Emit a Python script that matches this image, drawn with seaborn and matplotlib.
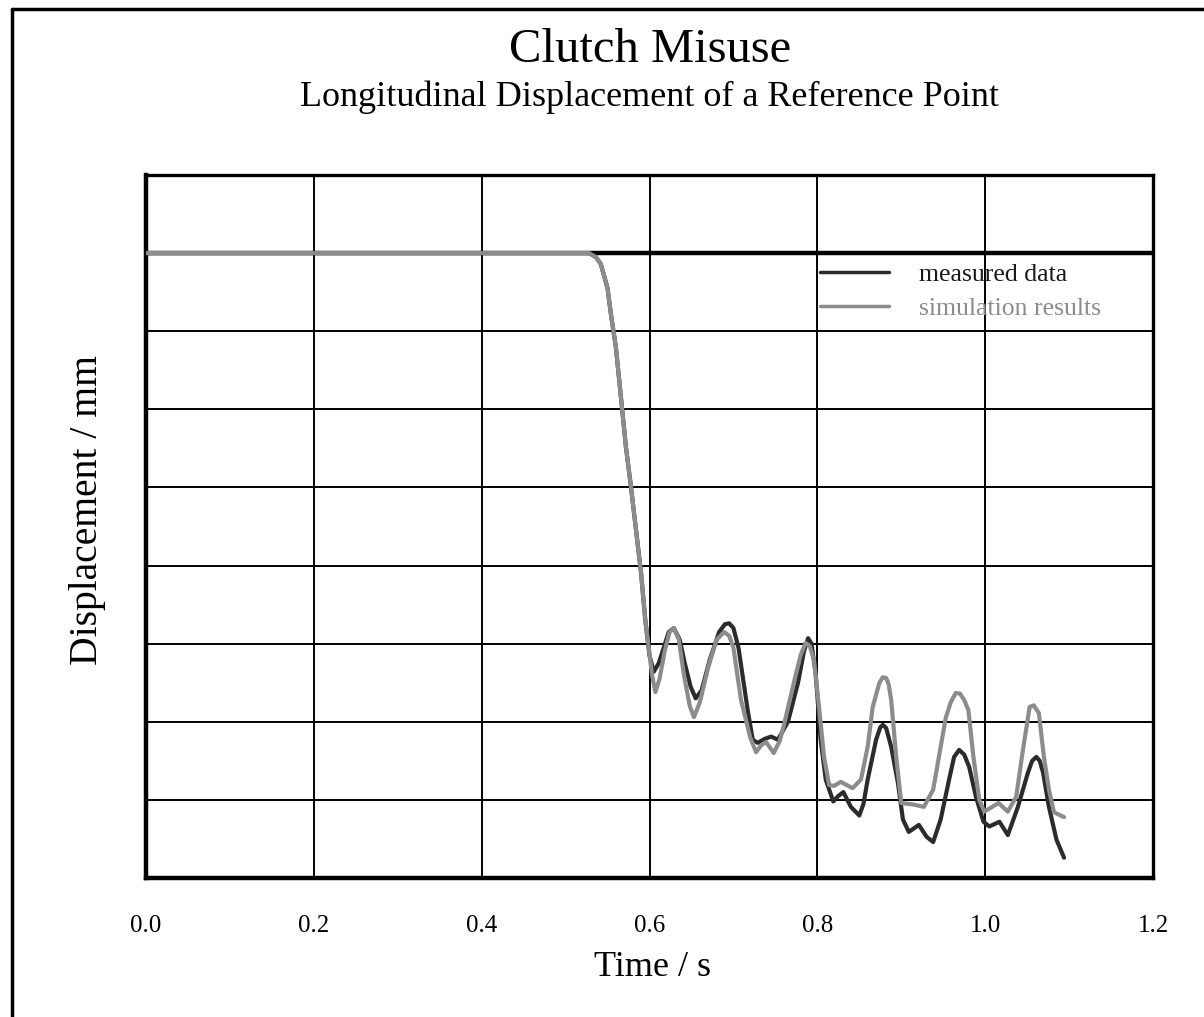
import numpy as np
import pandas as pd
import matplotlib
matplotlib.use("Agg")
import matplotlib.pyplot as plt
from matplotlib.lines import Line2D
import seaborn as sns

# ---------------- data ----------------
series_names = ["measured data", "simulation results"]

time_sim = [0.0, 0.20, 0.40, 0.50, 0.528, 0.536, 0.542, 0.550, 0.554, 0.560, 0.566, 0.572,
            0.578, 0.584, 0.590, 0.595, 0.599, 0.603, 0.607, 0.612, 0.618, 0.624, 0.629,
            0.635, 0.641, 0.648, 0.653, 0.660, 0.670, 0.680, 0.689, 0.695, 0.700,
            0.709, 0.720, 0.727, 0.733, 0.739, 0.748, 0.755, 0.760, 0.772, 0.780, 0.786,
            0.791, 0.796, 0.802, 0.808, 0.814, 0.820, 0.828, 0.842, 0.852, 0.860, 0.866,
            0.874, 0.878, 0.882, 0.885, 0.888, 0.894, 0.900, 0.915, 0.927, 0.938, 0.947,
            0.953, 0.959, 0.965, 0.970, 0.975, 0.980, 0.986, 0.993, 0.999, 1.016, 1.027,
            1.037, 1.045, 1.053, 1.058, 1.064, 1.070, 1.076, 1.082, 1.094]
disp_sim = [0.0, 0.0, 0.0, 0.0, 0.0, -0.05, -0.14, -0.45, -0.78, -1.21, -1.85, -2.49,
            -3.00, -3.55, -4.10, -4.70, -5.04, -5.40, -5.62, -5.45, -5.10, -4.85, -4.80,
            -4.95, -5.40, -5.80, -5.94, -5.75, -5.30, -4.95, -4.85, -4.90, -5.05,
            -5.72, -6.20, -6.39, -6.30, -6.26, -6.40, -6.25, -6.05, -5.50, -5.15, -4.99,
            -5.03, -5.21, -5.81, -6.45, -6.81, -6.82, -6.77, -6.85, -6.74, -6.32, -5.81,
            -5.50, -5.43, -5.44, -5.52, -5.72, -6.45, -7.04, -7.06, -7.09, -6.87, -6.32,
            -5.95, -5.75, -5.63, -5.64, -5.72, -5.85, -6.45, -7.00, -7.15, -7.04, -7.15,
            -6.96, -6.36, -5.81, -5.79, -5.89, -6.45, -6.87, -7.16, -7.22]

time_meas = [0.0, 0.20, 0.40, 0.50, 0.528, 0.536, 0.542, 0.550, 0.554, 0.560, 0.566, 0.572,
             0.578, 0.584, 0.590, 0.595, 0.600, 0.605, 0.611, 0.617, 0.623, 0.629,
             0.636, 0.642, 0.649, 0.655, 0.662, 0.672, 0.683, 0.690, 0.695, 0.700,
             0.706, 0.717, 0.723, 0.729, 0.737, 0.745, 0.753, 0.765, 0.777, 0.784, 0.789,
             0.793, 0.798, 0.804, 0.810, 0.819, 0.825, 0.831, 0.840, 0.850, 0.855, 0.860,
             0.870, 0.875, 0.878, 0.882, 0.888, 0.896, 0.902, 0.909, 0.921, 0.930, 0.938,
             0.947, 0.957, 0.963, 0.969, 0.975, 0.981, 0.989, 0.998, 1.005, 1.017, 1.027,
             1.039, 1.051, 1.056, 1.061, 1.065, 1.069, 1.076, 1.085, 1.094]
disp_meas = [0.0, 0.0, 0.0, 0.0, 0.0, -0.05, -0.14, -0.45, -0.78, -1.21, -1.85, -2.49,
             -3.00, -3.55, -4.10, -4.70, -5.15, -5.36, -5.25, -5.05, -4.85, -4.80,
             -4.95, -5.25, -5.55, -5.70, -5.60, -5.20, -4.85, -4.75, -4.74, -4.80,
             -5.05, -5.85, -6.23, -6.27, -6.22, -6.19, -6.23, -6.00, -5.50, -5.10, -4.93,
             -5.00, -5.38, -6.23, -6.74, -7.02, -6.95, -6.90, -7.09, -7.20, -7.05, -6.74,
             -6.23, -6.07, -6.04, -6.08, -6.32, -6.78, -7.25, -7.41, -7.32, -7.47, -7.54,
             -7.25, -6.74, -6.45, -6.36, -6.42, -6.58, -6.96, -7.28, -7.34, -7.28, -7.45,
             -7.09, -6.65, -6.50, -6.45, -6.50, -6.65, -7.09, -7.51, -7.74]

x_ticks = [0.0, 0.2, 0.4, 0.6, 0.8, 1.0, 1.2]
x_tick_labels = ["0.0", "0.2", "0.4", "0.6", "0.8", "1.0", "1.2"]
y_ticks = [-8, -7, -6, -5, -4, -3, -2, -1, 0, 1]

title = "Clutch Misuse"
subtitle = "Longitudinal Displacement of a Reference Point"
x_label = "Time / s"
y_label = "Displacement / mm"

# ---------------- style ----------------
sns.set_style("white")
plt.rcParams['font.family'] = ['Liberation Serif', 'DejaVu Serif']
plt.rcParams['text.color'] = 'black'
plt.rcParams['axes.labelcolor'] = 'black'
plt.rcParams['xtick.color'] = 'black'
plt.rcParams['ytick.color'] = 'black'

col_meas = "#2b2b2b"
col_sim = "#8c8c8c"

df = pd.concat([
    pd.DataFrame({"t": time_meas, "v": disp_meas, "series": series_names[0]}),
    pd.DataFrame({"t": time_sim, "v": disp_sim, "series": series_names[1]}),
], ignore_index=True)

W, H = 1204, 1017
fig = plt.figure(figsize=(W / 100, H / 100), dpi=100)
ax = fig.add_axes([146 / W, 1 - 878 / H, (1153 - 146) / W, (878 - 175) / H])

sns.lineplot(data=df, x="t", y="v", hue="series", hue_order=series_names,
             palette={series_names[0]: col_meas, series_names[1]: col_sim},
             sort=False, estimator=None, lw=3.0, ax=ax, zorder=3)
for ln in ax.get_lines():
    ln.set_solid_joinstyle('round')
    ln.set_solid_capstyle('round')

ax.set_xlim(0, 1.2)
ax.set_ylim(-8, 1)
ax.set_xticks(x_ticks)
ax.set_xticklabels(x_tick_labels)
ax.set_yticks(y_ticks)
ax.set_yticklabels([])
ax.tick_params(axis='both', direction='out', length=5, width=2, color='black',
               labelcolor='black', labelsize=18, pad=21.5)
ax.grid(True, color='black', lw=1.4)
ax.set_axisbelow(True)
ax.axhline(0, color='black', lw=3.2, zorder=2)

for side, lw in [("left", 3.2), ("bottom", 3.2), ("top", 2.4), ("right", 2.4)]:
    ax.spines[side].set_visible(True)
    ax.spines[side].set_color('black')
    ax.spines[side].set_linewidth(lw)

ax.set_xlabel(x_label, fontsize=26, color='black')
ax.set_ylabel(y_label, fontsize=28.5, color='black')
ax.xaxis.set_label_coords((653 - 146) / 1007, -(967 - 878) / 703)
ax.yaxis.set_label_coords(-(146 - 88) / 1007, (878 - 510) / 703)
ax.xaxis.label.set_va('center')
ax.yaxis.label.set_va('center')

leg = ax.legend(loc='upper left', bbox_to_anchor=(0.669, 0.875), frameon=False,
                fontsize=18.5, handlelength=2.7, handletextpad=1.15,
                labelspacing=0.45, borderpad=0, borderaxespad=0)
for line in leg.get_lines():
    line.set_linewidth(2.5)
for txt, c in zip(leg.get_texts(), ["#1a1a1a", "#8c8c8c"]):
    txt.set_color(c)

fig.text(650 / W, 1 - 50 / H, title, ha='center', va='center', fontsize=35, color='black')
fig.text(650 / W, 1 - 97 / H, subtitle, ha='center', va='center', fontsize=26, color='black')

# outer frame (left and top edges visible in the reference)
fig.add_artist(Line2D([12 / W, 12 / W], [0, 1 - 9 / H], transform=fig.transFigure,
                      color='black', lw=2.5))
fig.add_artist(Line2D([12 / W, 1], [1 - 9 / H, 1 - 9 / H], transform=fig.transFigure,
                      color='black', lw=2.5))

fig.savefig("out.png", dpi=100)
